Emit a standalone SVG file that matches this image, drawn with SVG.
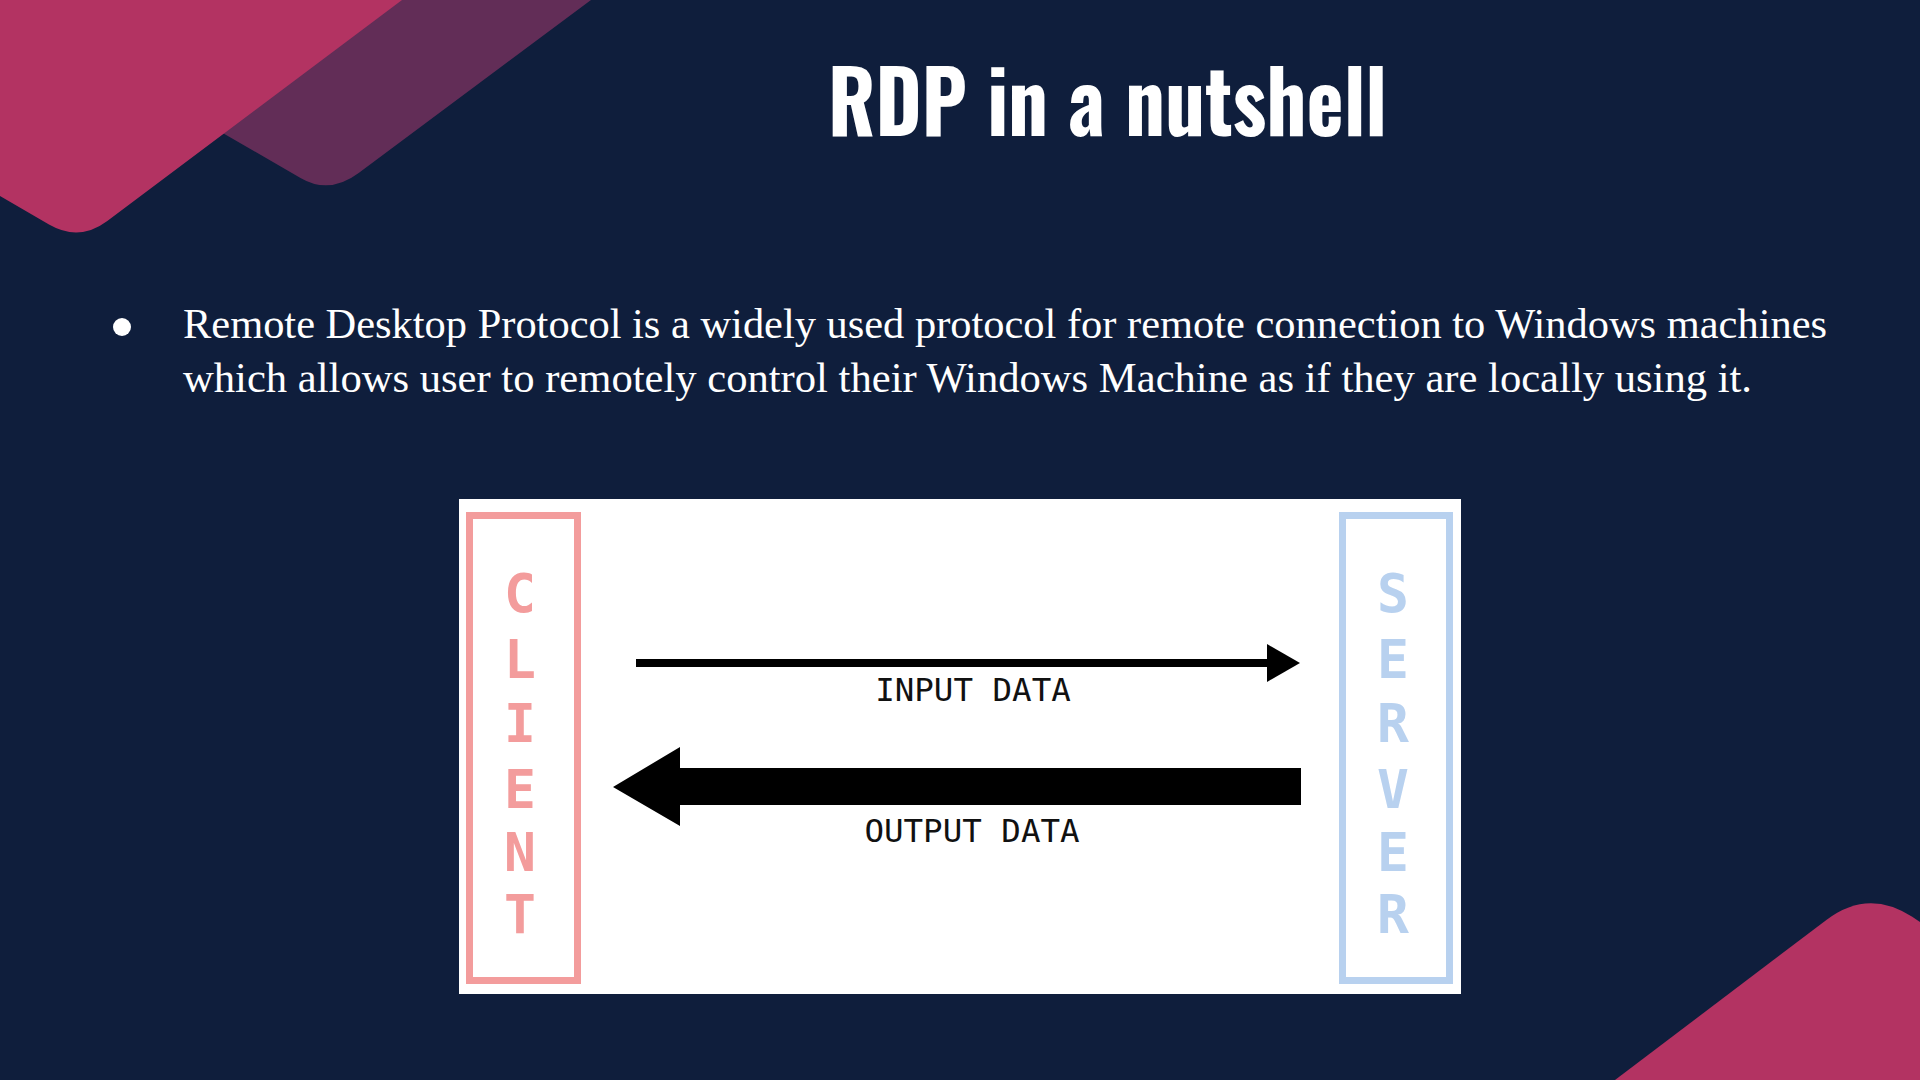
<svg xmlns="http://www.w3.org/2000/svg" width="1920" height="1080" viewBox="0 0 1920 1080">
  <style>
    .title { font-family: "Oswald", "Liberation Sans Narrow", "DejaVu Sans Condensed", "DejaVu Sans", sans-serif; font-weight: bold; font-size: 86px; fill: #ffffff; }
    .body { font-family: "Liberation Serif", "DejaVu Serif", serif; font-size: 42px; fill: #ffffff; }
    .vletter { font-family: "DejaVu Sans Mono", "Liberation Mono", monospace; font-weight: bold; font-size: 53px; text-anchor: middle; }
    .client { fill: #f39c9c; }
    .server { fill: #b8d1ef; }
    .label { font-family: "DejaVu Sans Mono", "Liberation Mono", monospace; font-size: 32.5px; fill: #111111; text-anchor: middle; }
  </style>
  <rect x="0" y="0" width="1920" height="1080" fill="#0f1e3c"/>
  <g id="decor">
    <path d="M 150,0 L 591,0 L 358.7,173 Q 329.4,194.9 300.5,178 L 150,91 Z" fill="#622d57"/>
    <path d="M 0,0 L 402,0 L 107.3,221 Q 79.3,242 49,224.5 L 0,196 Z" fill="#b33362"/>
    <path d="M 1615,1080 L 1826.7,919.7 Q 1868.2,888.3 1911.8,916.6 L 1920,922 L 1920,1080 Z" fill="#b33362"/>
  </g>
  <g id="title">
    <text class="title" x="828" y="136" textLength="559" lengthAdjust="spacingAndGlyphs">RDP in a nutshell</text>
  </g>
  <g id="bullet-text">
    <circle cx="122" cy="327" r="9" fill="#ffffff"/>
    <text class="body" x="183" y="338" textLength="1644" lengthAdjust="spacingAndGlyphs">Remote Desktop Protocol is a widely used protocol for remote connection to Windows machines</text>
    <text class="body" x="183" y="392" textLength="1569" lengthAdjust="spacingAndGlyphs">which allows user to remotely control their Windows Machine as if they are locally using it.</text>
  </g>
  <g id="diagram">
    <rect x="459" y="499" width="1002" height="495" fill="#ffffff"/>
    <g id="client">
      <rect x="469.5" y="515.5" width="108" height="465" fill="none" stroke="#f39c9c" stroke-width="7"/>
      <text class="vletter client"><tspan x="520" y="612">C</tspan><tspan x="520" y="678">L</tspan><tspan x="520" y="742">I</tspan><tspan x="520" y="808">E</tspan><tspan x="520" y="871">N</tspan><tspan x="520" y="933">T</tspan></text>
    </g>
    <g id="server">
      <rect x="1342.5" y="515.5" width="107" height="465" fill="none" stroke="#b8d1ef" stroke-width="7"/>
      <text class="vletter server"><tspan x="1393" y="612">S</tspan><tspan x="1393" y="678">E</tspan><tspan x="1393" y="742">R</tspan><tspan x="1393" y="808">V</tspan><tspan x="1393" y="871">E</tspan><tspan x="1393" y="933">R</tspan></text>
    </g>
    <g id="connectors">
      <g id="input-arrow">
        <line x1="636" y1="663" x2="1268" y2="663" stroke="#000000" stroke-width="8"/>
        <polygon points="1267,644 1300,663 1267,682" fill="#000000"/>
        <text class="label" x="973" y="701">INPUT DATA</text>
      </g>
      <g id="output-arrow">
        <polygon points="613,787 680,747 680,768 1301,768 1301,805 680,805 680,826" fill="#000000"/>
        <text class="label" x="972" y="842">OUTPUT DATA</text>
      </g>
    </g>
  </g>
</svg>
